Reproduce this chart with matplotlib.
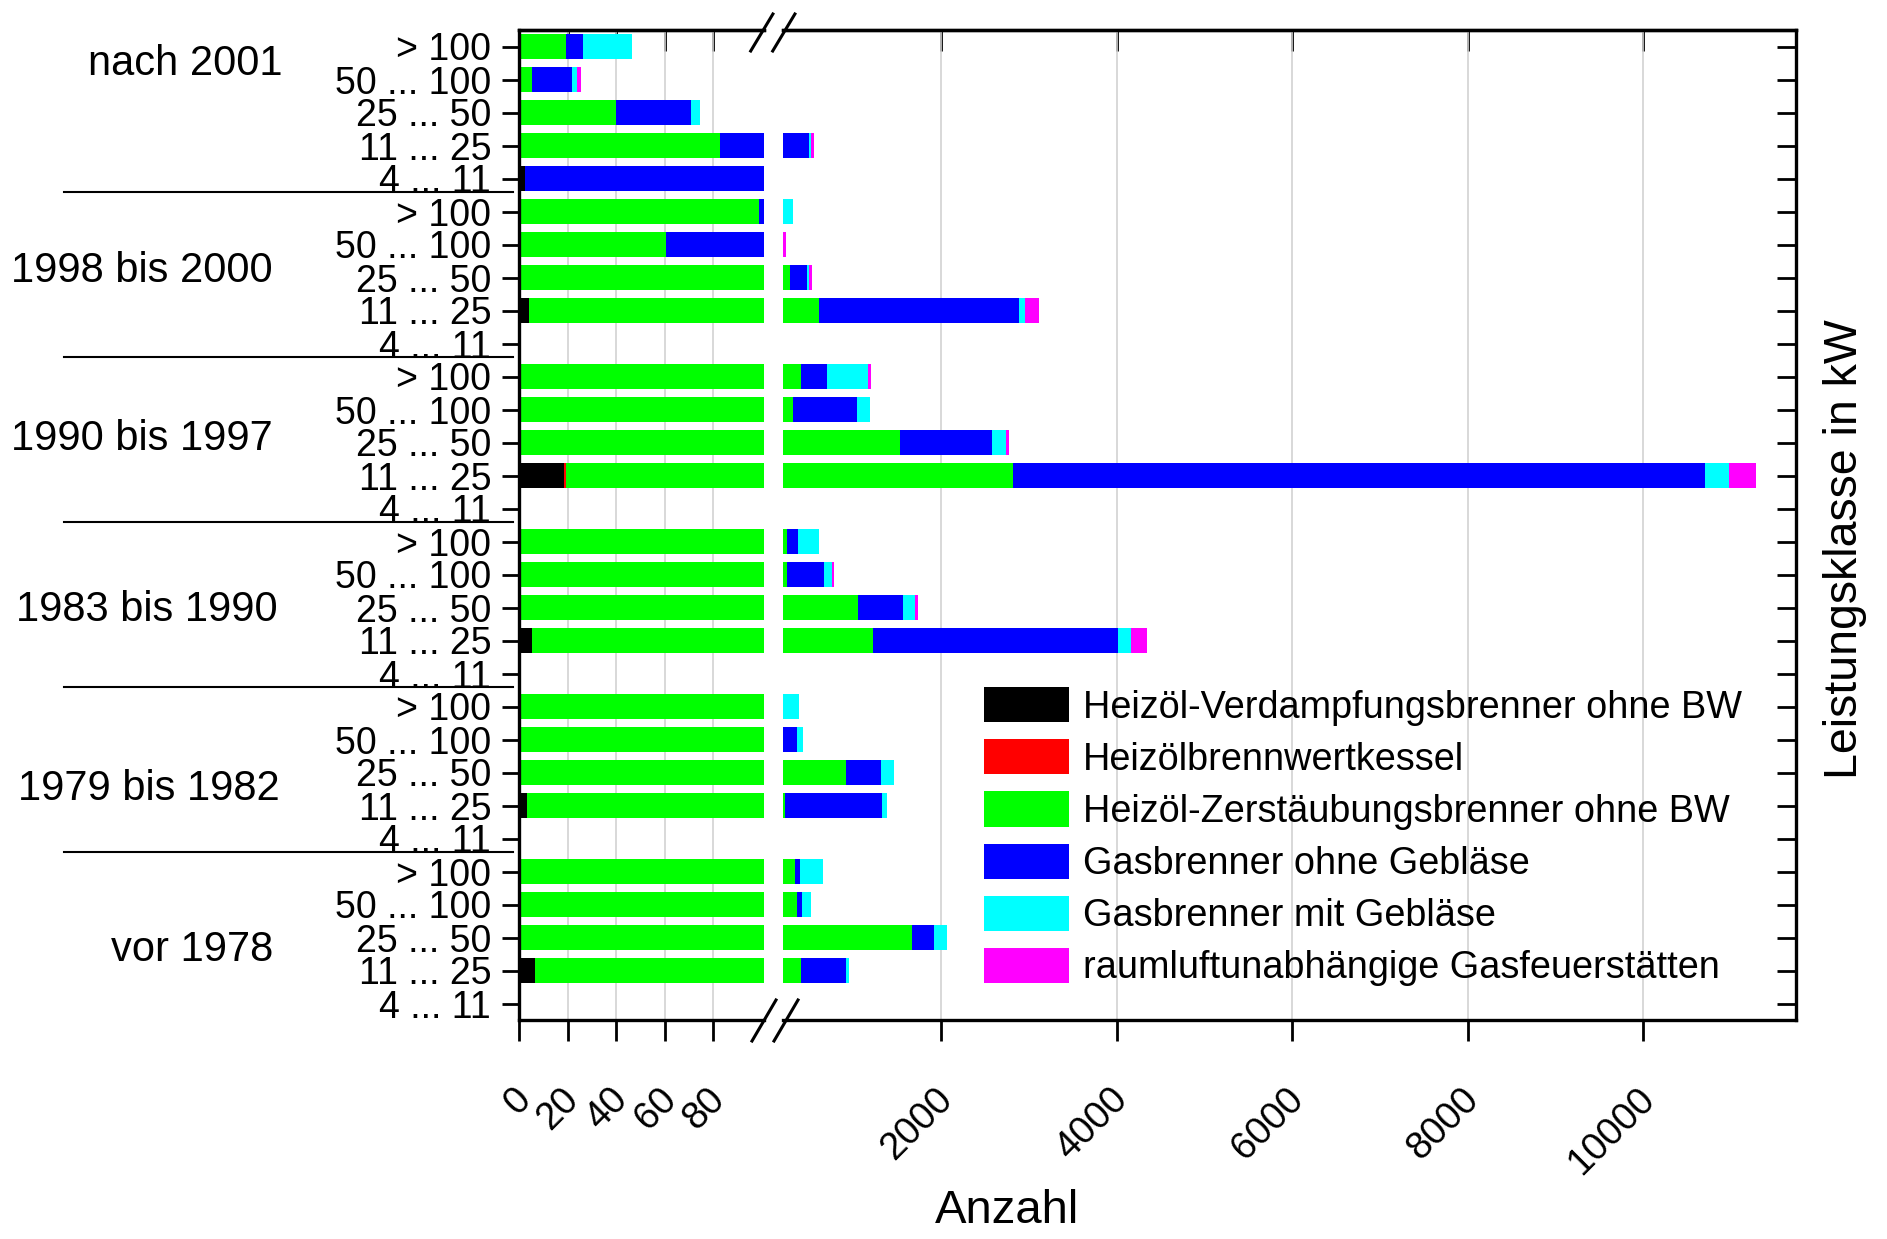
import matplotlib
matplotlib.use('Agg')
import matplotlib.pyplot as plt
from matplotlib.lines import Line2D
from matplotlib.transforms import blended_transform_factory, ScaledTranslation
import numpy as np

plt.rcParams['font.family'] = ['Liberation Sans', 'DejaVu Sans']

# ---------------- data ----------------
groups = ["nach 2001", "1998 bis 2000", "1990 bis 1997",
          "1983 bis 1990", "1979 bis 1982", "vor 1978"]
classes = ["> 100", "50 ... 100", "25 ... 50", "11 ... 25", "4 ... 11"]

series_names = ["Heizöl-Verdampfungsbrenner ohne BW",
                "Heizölbrennwertkessel",
                "Heizöl-Zerstäubungsbrenner ohne BW",
                "Gasbrenner ohne Gebläse",
                "Gasbrenner mit Gebläse",
                "raumluftunabhängige Gasfeuerstätten"]
series_colors = ["#000000", "#ff0000", "#00ff00", "#0000ff", "#00ffff", "#ff00ff"]

# rows: for each group (top to bottom) the classes > 100, 50..100, 25..50, 11..25, 4..11
verdampfung = [0, 0, 0, 0, 2.5,
               0, 0, 0, 4.3, 0,
               0, 0, 0, 18.6, 0,
               0, 0, 0, 5.5, 0,
               0, 0, 0, 3.2, 0,
               0, 0, 0, 6.6, 0]
brennwert = [0, 0, 0, 0, 0,
             0, 0, 0, 0, 0,
             0, 0, 0, 0.8, 0,
             0, 0, 0, 0, 0,
             0, 0, 0, 0, 0,
             0, 0, 0, 0, 0]
zerstaeubung = [19.5, 5.5, 40, 83, 0,
                99, 60.5, 276, 603, 0,
                405, 314, 1530, 2799, 0,
                242, 250, 1059, 1220, 0,
                150, 160, 915, 216, 0,
                333, 364, 1667, 398, 0]
gas_ohne = [7, 16.2, 30.7, 413, 157.5,
            40, 134.5, 194, 2280, 0,
            293, 726, 1052, 7890, 0,
            125, 417, 509, 2792, 0,
            0, 204, 406, 1109, 0,
            57, 57, 258, 510, 0]
gas_mit = [20, 2.1, 4, 20, 0,
           179, 10, 23, 75, 0,
           471, 156, 164, 272, 0,
           240, 88, 136, 152, 0,
           229, 68, 141, 54, 0,
           262, 103, 144, 34, 0]
raumluft = [0, 1.8, 0, 34, 0,
            0, 26, 34, 155, 0,
            31, 0, 26, 305, 0,
            0, 31, 31, 175, 0,
            0, 0, 0, 0, 0,
            0, 0, 0, 0, 0]

left_ticks = [0, 20, 40, 60, 80]
right_ticks = [2000, 4000, 6000, 8000, 10000]

series = [verdampfung, brennwert, zerstaeubung, gas_ohne, gas_mit, raumluft]

# ---------------- layout ----------------
W, H = 1887, 1239
fig = plt.figure(figsize=(W / 100, H / 100), dpi=100)


def fx(px):
    return px / W


def fy(py):
    return 1 - py / H


top_px, bot_px = 30, 1020
axL = fig.add_axes([fx(519), fy(bot_px), fx(764) - fx(519), (bot_px - top_px) / H])
axR = fig.add_axes([fx(783), fy(bot_px), fx(1796) - fx(783), (bot_px - top_px) / H])

n_rows = len(groups) * len(classes)
ypos = np.arange(n_rows)
ylabels = classes * len(groups)

for ax in (axL, axR):
    left = np.zeros(n_rows)
    for vals, col, name in zip(series, series_colors, series_names):
        v = np.array(vals, dtype=float)
        ax.barh(ypos, v, left=left, height=0.77, color=col, linewidth=0,
                label=name, zorder=2)
        left += v
    ax.set_ylim(n_rows - 0.5, -0.5)
    ax.grid(axis='x', color='#d2d2d2', linewidth=1.2, zorder=0)
    ax.set_axisbelow(True)
    for s in ax.spines.values():
        s.set_linewidth(2.4)

axL.set_xlim(0, 101)
axR.set_xlim(200, 11740)
axL.set_xticks(left_ticks)
axR.set_xticks(right_ticks)
axL.set_xticklabels([str(t) for t in left_ticks])
axR.set_xticklabels([str(t) for t in right_ticks])

axL.spines['right'].set_visible(False)
axR.spines['left'].set_visible(False)

# y ticks
axL.set_yticks(ypos)
axL.set_yticklabels(ylabels)
axL.tick_params(axis='y', left=True, right=False, direction='out', length=12,
                width=2, labelsize=27, pad=8)
axR.set_yticks(ypos)
axR.tick_params(axis='y', left=False, right=True, labelleft=False,
                direction='in', length=14, width=2)

# x ticks (bottom out, top in)
shift = ScaledTranslation(6 / 100, 0, fig.dpi_scale_trans)
for ax in (axL, axR):
    ax.tick_params(axis='x', bottom=True, top=False, direction='out',
                   length=15, width=2, labelsize=27.5, pad=38)
    for lbl in ax.get_xticklabels():
        lbl.set_rotation(45)
        lbl.set_ha('right')
        lbl.set_va('center')
        lbl.set_rotation_mode('anchor')
        lbl.set_transform(lbl.get_transform() + shift)
    sec = ax.secondary_xaxis('top')
    sec.set_xticks(ax.get_xticks())
    sec.tick_params(axis='x', direction='in', length=15, width=2, labeltop=False)
    for s in sec.spines.values():
        s.set_linewidth(2.4)

# group separators and group labels
trans = blended_transform_factory(fig.transFigure, axL.transData)
for k in range(len(groups) - 1):
    yk = len(classes) * k + 4.4
    fig.add_artist(Line2D([fx(64), fx(513)], [yk, yk], transform=trans,
                          color='black', linewidth=1.5))
group_label_rows = [0.52, 6.79, 11.89, 17.09, 22.49, 27.39]
group_label_right = [282, 273, 273, 278, 280, 273]
for name, r, xr in zip(groups, group_label_rows, group_label_right):
    axL.text(fx(xr), r, name, transform=trans, ha='right', va='center',
             fontsize=30)

# axis break marks
for (x0, y0, x1, y1) in [(750.7, 51, 772.9, 14), (772.7, 51, 794.9, 14),
                         (752, 1041, 776, 1000), (774, 1041, 798, 1000)]:
    fig.add_artist(Line2D([fx(x0), fx(x1)], [fy(y0), fy(y1)],
                          transform=fig.transFigure, color='black', linewidth=2.2))

# axis labels
fig.text(fx(1007), fy(1211), "Anzahl", ha='center', va='center', fontsize=34)
fig.text(fx(1845), fy(549), "Leistungsklasse in kW", ha='center', va='center',
         rotation=90, fontsize=33.5)

# legend
handles, labels = axR.get_legend_handles_labels()
fig.legend(handles, labels, loc='upper left',
           bbox_to_anchor=(fx(984), fy(687)), bbox_transform=fig.transFigure,
           frameon=False, fontsize=27.3, handlelength=2.25, handleheight=1.05,
           handletextpad=0.35, labelspacing=0.36, borderpad=0, borderaxespad=0)

fig.savefig("out.png", dpi=100)
